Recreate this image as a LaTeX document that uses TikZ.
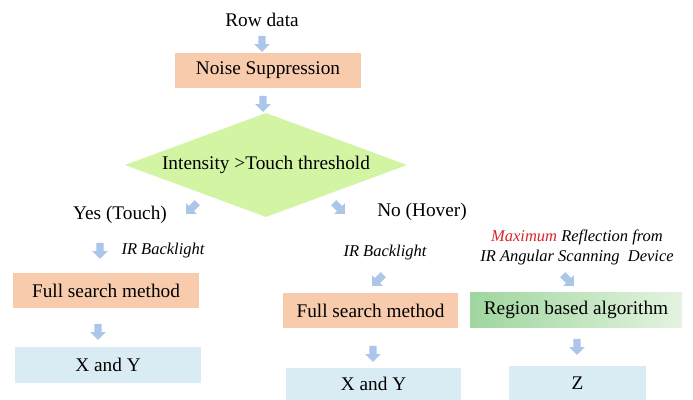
\documentclass[tikz,border=0pt]{standalone}
\usepackage{fontspec}
\setmainfont{Liberation Serif}
\usetikzlibrary{shapes.geometric,shapes.arrows}
\definecolor{peach}{RGB}{248,203,173}
\definecolor{paleblue}{RGB}{218,236,243}
\definecolor{limegreen}{RGB}{210,244,163}
\definecolor{arrowblue}{RGB}{172,198,233}
\definecolor{greendark}{RGB}{158,214,158}
\definecolor{greenlight}{RGB}{228,243,224}
\definecolor{maxred}{RGB}{215,40,45}
\tikzset{
  txt/.style={font=\fontsize{19.3}{22}\selectfont, inner sep=0pt},
  itxt/.style={font=\fontsize{16.5}{20}\selectfont\itshape, inner sep=0pt, align=center},
  boxbase/.style={txt, draw=none, minimum height=35pt},
  peachbox/.style={boxbase, fill=peach},
  bluebox/.style={boxbase, fill=paleblue},
  greenbox/.style={boxbase, left color=greendark, right color=greenlight},
  decision/.style={diamond, fill=limegreen, draw=none, inner sep=0pt, minimum width=282pt, minimum height=104pt},
  barrow/.style={single arrow, fill=arrowblue, draw=none, inner xsep=0pt, inner ysep=3.5pt, minimum width=15pt, minimum height=16pt, single arrow head extend=4pt}
}
\begin{document}
\begin{tikzpicture}[x=1pt,y=-1pt]
\path[use as bounding box, fill=white] (0,0) rectangle (693,399);
% top
\node[txt] (row) at (262,20) {Row data};
\node[barrow, rotate=-90] (a1) at (262,42) {};
\node[peachbox, minimum width=186pt] (noise) at (268,70) {Noise Suppression};
\node[barrow, rotate=-90] (a2) at (263,102) {};
\node[decision] (dec) at (266,165) {};
\node[txt] (dectext) at (dec) {Intensity >Touch threshold};
% left branch
\node[barrow, rotate=-135] (a3) at (193,207) {};
\node[txt] (yes) at (120,215) {Yes (Touch)};
\node[barrow, rotate=-90] (a4) at (100,249) {};
\node[itxt] (irl) at (163,251) {IR Backlight};
\node[peachbox, minimum width=186pt] (fsl) at (106,290.5) {Full search method};
\node[barrow, rotate=-90] (a5) at (98,330) {};
\node[bluebox, minimum width=186pt, minimum height=36pt] (xyl) at (108,365) {X and Y};
% middle branch
\node[barrow, rotate=-45] (a6) at (338,207) {};
\node[txt] (no) at (422,212) {No (Hover)};
\node[itxt] (irr) at (385,253) {IR Backlight};
\node[barrow, rotate=-135] (a7) at (379,279) {};
\node[peachbox, minimum width=175pt] (fsr) at (370.5,310.5) {Full search method};
\node[barrow, rotate=-90] (a8) at (373,352) {};
\node[bluebox, minimum width=175pt, minimum height=32pt] (xyr) at (373.5,384) {X and Y};
% right branch
\node[itxt] (maxref) at (577,247) {\textcolor{maxred}{Maximum} Reflection from\\[0pt]IR Angular Scanning\ \ Device};
\node[barrow, rotate=-45] (a9) at (567,279) {};
\node[greenbox, minimum width=212pt] (region) at (576,309.5) {Region based algorithm};
\node[barrow, rotate=-90] (a10) at (577,345) {};
\node[bluebox, minimum width=137pt, minimum height=34pt] (z) at (577.5,383) {Z};
\end{tikzpicture}
\end{document}
